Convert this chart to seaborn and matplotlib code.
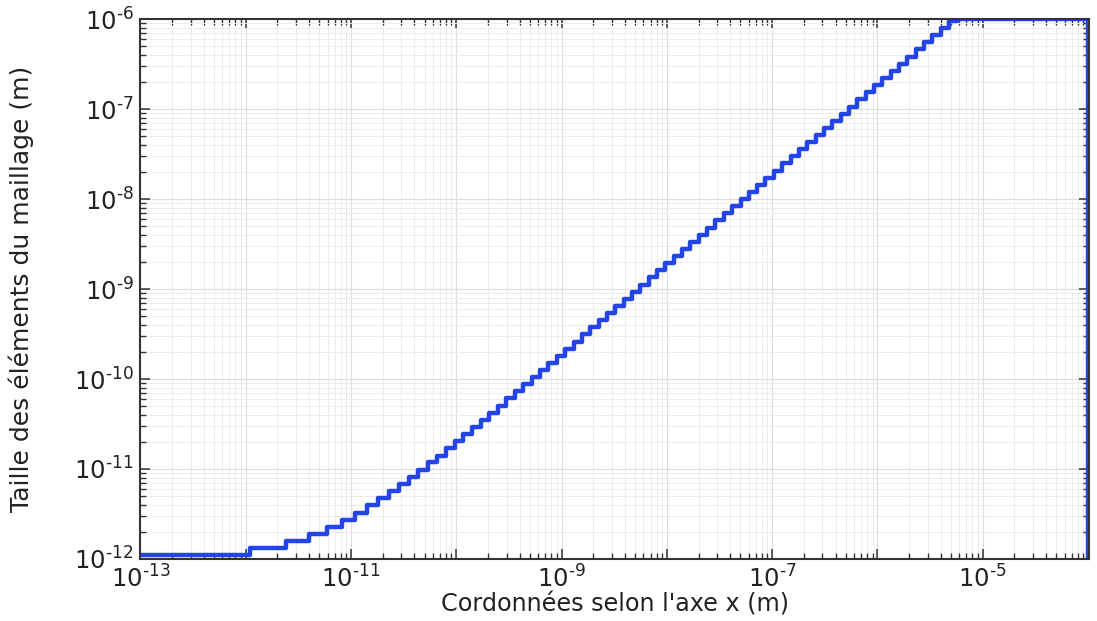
import numpy as np
import pandas as pd
import seaborn as sns
import matplotlib
matplotlib.use("Agg")
import matplotlib.pyplot as plt
from matplotlib.ticker import LogLocator, FixedLocator, FuncFormatter, NullFormatter

# element sizes of the graded mesh (m), read step by step from the staircase
graded_sizes = [
    1.10e-12, 1.32e-12, 1.58e-12, 1.90e-12, 2.28e-12, 2.74e-12, 3.28e-12, 3.94e-12,
    4.73e-12, 5.68e-12, 6.81e-12, 8.17e-12, 9.81e-12, 1.18e-11, 1.41e-11, 1.70e-11,
    2.03e-11, 2.44e-11, 2.93e-11, 3.52e-11, 4.22e-11, 5.06e-11, 6.08e-11, 7.29e-11,
    8.75e-11, 1.05e-10, 1.26e-10, 1.51e-10, 1.81e-10, 2.18e-10, 2.61e-10, 3.13e-10,
    3.76e-10, 4.51e-10, 5.42e-10, 6.50e-10, 7.80e-10, 9.36e-10, 1.12e-09, 1.35e-09,
    1.62e-09, 1.94e-09, 2.33e-09, 2.80e-09, 3.35e-09, 4.03e-09, 4.83e-09, 5.80e-09,
    6.96e-09, 8.35e-09, 1.00e-08, 1.20e-08, 1.44e-08, 1.73e-08, 2.08e-08, 2.49e-08,
    2.99e-08, 3.59e-08, 4.31e-08, 5.17e-08, 6.20e-08, 7.44e-08, 8.93e-08, 1.07e-07,
    1.29e-07, 1.54e-07, 1.85e-07, 2.22e-07, 2.67e-07, 3.20e-07, 3.84e-07, 4.61e-07,
    5.53e-07, 6.64e-07, 7.97e-07, 9.56e-07,
]
plateau_size = 1e-6      # max element size (m)
x_start = 1e-13          # first plotted coordinate (m)
domain_end = 1e-4        # end of the domain (m)
end_size = 1e-12         # value plotted at the last node

# node coordinates = running sum of element sizes
nodes = np.cumsum(graded_sizes)
x = [x_start] + list(nodes) + [domain_end, domain_end]
y = list(graded_sizes) + [plateau_size, plateau_size, end_size]
df = pd.DataFrame({"x": x, "taille": y})

sns.set_style("white")
plt.rcParams["font.family"] = ["DejaVu Sans"]

fig, ax = plt.subplots(figsize=(10.97, 6.21), dpi=100)
fig.subplots_adjust(left=0.128, right=0.993, top=0.969, bottom=0.1)

sns.lineplot(data=df, x="x", y="taille", ax=ax, sort=False, estimator=None,
             color="#2344e6", linewidth=3.2, drawstyle="steps-post",
             solid_joinstyle="round")

ax.set_xscale("log")
ax.set_yscale("log")
ax.set_xlim(1e-13, 1.03e-4)
ax.set_ylim(1e-12, 1e-6)


def sci(v, p, only_odd=False):
    e = int(round(np.log10(v)))
    if only_odd and e % 2 == 0:
        return ""
    return r"$\mathdefault{10^{\text{-}%d}}$" % abs(e)


# decade ticks everywhere, but only every second one labelled on x
decades = [10.0 ** e for e in range(-13, -3)]
ax.xaxis.set_major_locator(FixedLocator(decades))
ax.xaxis.set_major_formatter(FuncFormatter(lambda v, p: sci(v, p, True)))
ax.xaxis.set_minor_locator(LogLocator(base=10, subs=np.arange(2, 10), numticks=50))
ax.xaxis.set_minor_formatter(NullFormatter())
ax.yaxis.set_major_locator(LogLocator(base=10, numticks=20))
ax.yaxis.set_major_formatter(FuncFormatter(sci))
ax.yaxis.set_minor_locator(LogLocator(base=10, subs=np.arange(2, 10), numticks=50))
ax.yaxis.set_minor_formatter(NullFormatter())

ax.tick_params(which="both", direction="in", bottom=True, left=True, top=True, right=True,
               colors="#333333", labelcolor="#222222")
ax.tick_params(which="major", length=7, width=1.1, labelsize=17.5, pad=5)
ax.tick_params(which="minor", length=4, width=1.0)

ax.grid(True, which="major", color="#dcdcdc", linewidth=0.8)
ax.grid(True, which="minor", color="#ececec", linewidth=0.7)
for s in ax.spines.values():
    s.set_color("#333333")
    s.set_linewidth(1.5)

ax.set_xlabel("Cordonnées selon l'axe x (m)", fontsize=17.2, color="#222222")
ax.set_ylabel("Taille des éléments du maillage (m)", fontsize=18, color="#222222")
ax.xaxis.set_label_coords(0.5, -0.063)
ax.yaxis.set_label_coords(-0.112, 0.5)

plt.savefig("out.png", dpi=100)
plt.close()
